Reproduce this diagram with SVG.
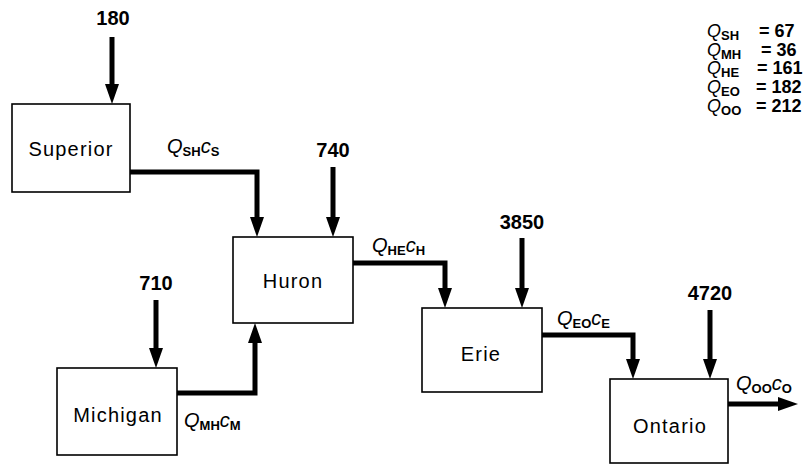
<svg xmlns="http://www.w3.org/2000/svg" width="807" height="466" viewBox="0 0 807 466">
<style>
.box{fill:#fff;stroke:#000;stroke-width:1.6}
.name{font-family:"Liberation Sans",Arial,sans-serif;font-size:20px;letter-spacing:1.2px;text-anchor:middle;fill:#000}
.num{font-family:"Liberation Sans",Arial,sans-serif;font-size:20px;font-weight:bold;text-anchor:middle;fill:#000}
.flow{fill:none;stroke:#000;stroke-width:5;stroke-linejoin:miter;stroke-linecap:butt;marker-end:url(#ah)}
.q{font-family:"Liberation Sans",Arial,sans-serif;font-size:20px;fill:#000}
.it{font-style:italic}
.sub{font-size:13px;font-weight:bold}
.leg{font-family:"Liberation Sans",Arial,sans-serif;font-size:18px;fill:#000}
.lsub{font-size:13px;font-weight:bold}
.lnum{font-weight:bold}
</style>
<defs>
<marker id="ah" viewBox="0 0 20 14" refX="6" refY="7" markerWidth="20" markerHeight="14" markerUnits="userSpaceOnUse" orient="auto">
<path d="M0,0 L20,7 L0,14 Z" fill="#000"/>
</marker>
</defs>
<rect width="807" height="466" fill="#fff"/>
<g id="connectors">
<path class="flow" d="M112,37 V90"/>
<path class="flow" d="M130,172 H257 V223"/>
<path class="flow" d="M333,167 V223"/>
<path class="flow" d="M177,393 H255 V337"/>
<path class="flow" d="M156,300 V354"/>
<path class="flow" d="M353,263 H445 V294"/>
<path class="flow" d="M522,238 V294"/>
<path class="flow" d="M542,335 H633 V365"/>
<path class="flow" d="M710,310 V365"/>
<path class="flow" d="M728,404 H784"/>
</g>
<g id="superior"><rect class="box" x="12" y="104" width="118" height="88"/><text class="name" x="71" y="156">Superior</text></g>
<g id="huron"><rect class="box" x="233" y="237" width="120" height="86"/><text class="name" x="293" y="288">Huron</text></g>
<g id="michigan"><rect class="box" x="57" y="368" width="120" height="87"/><text class="name" x="118" y="422">Michigan</text></g>
<g id="erie"><rect class="box" x="422" y="308" width="120" height="84"/><text class="name" x="481" y="361">Erie</text></g>
<g id="ontario"><rect class="box" x="610" y="379" width="118" height="84"/><text class="name" x="670" y="433">Ontario</text></g>
<g id="inputs">
<text class="num" x="113" y="25">180</text>
<text class="num" x="333" y="157">740</text>
<text class="num" x="156" y="290">710</text>
<text class="num" x="522" y="229">3850</text>
<text class="num" x="710" y="300">4720</text>
</g>
<g id="flow-labels">
<text class="q" x="167" y="153"><tspan class="it">Q</tspan><tspan class="sub" dy="3">SH</tspan><tspan class="it" dy="-3">c</tspan><tspan class="sub" dy="3">S</tspan></text>
<text class="q" x="372" y="252"><tspan class="it">Q</tspan><tspan class="sub" dy="3">HE</tspan><tspan class="it" dy="-3">c</tspan><tspan class="sub" dy="3">H</tspan></text>
<text class="q" x="184" y="427"><tspan class="it">Q</tspan><tspan class="sub" dy="3">MH</tspan><tspan class="it" dy="-3">c</tspan><tspan class="sub" dy="3">M</tspan></text>
<text class="q" x="557" y="325"><tspan class="it">Q</tspan><tspan class="sub" dy="3">EO</tspan><tspan class="it" dy="-3">c</tspan><tspan class="sub" dy="3">E</tspan></text>
<text class="q" x="736" y="390"><tspan class="it">Q</tspan><tspan class="sub" dy="3">OO</tspan><tspan class="it" dy="-3">c</tspan><tspan class="sub" dy="3">O</tspan></text>
</g>
<g id="legend">
<text class="leg" x="707" y="37"><tspan class="it">Q</tspan><tspan class="lsub" dy="3">SH</tspan><tspan class="lnum" x="759" dy="-3">= 67</tspan></text>
<text class="leg" x="707" y="55.7"><tspan class="it">Q</tspan><tspan class="lsub" dy="3">MH</tspan><tspan class="lnum" x="761" dy="-3">= 36</tspan></text>
<text class="leg" x="707" y="74.4"><tspan class="it">Q</tspan><tspan class="lsub" dy="3">HE</tspan><tspan class="lnum" x="757" dy="-3">= 161</tspan></text>
<text class="leg" x="707" y="93.1"><tspan class="it">Q</tspan><tspan class="lsub" dy="3">EO</tspan><tspan class="lnum" x="756" dy="-3">= 182</tspan></text>
<text class="leg" x="707" y="111.8"><tspan class="it">Q</tspan><tspan class="lsub" dy="3">OO</tspan><tspan class="lnum" x="756" dy="-3">= 212</tspan></text>
</g>
</svg>
